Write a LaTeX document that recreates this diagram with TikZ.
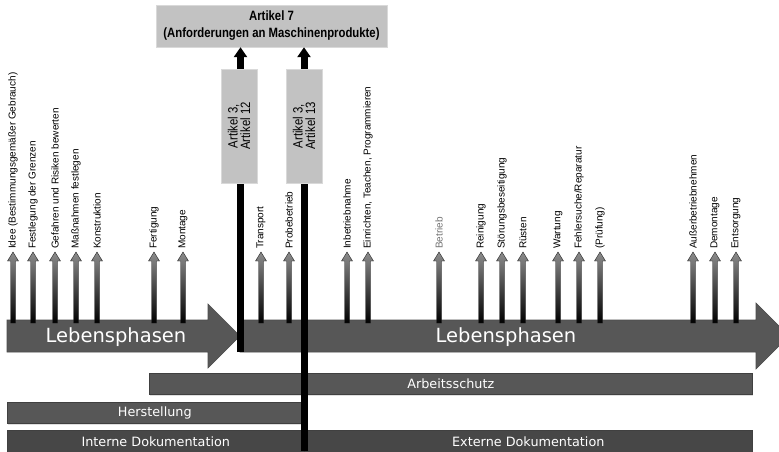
\documentclass[tikz,border=0pt]{standalone}
\usepackage{fontspec}
\setmainfont{Liberation Sans}
\newfontfamily\dejavu{DejaVu Sans}
\newfontfamily\narrowfont[FakeStretch=0.84]{Liberation Sans}
\usetikzlibrary{arrows.meta,shadows}
\definecolor{barfill}{HTML}{575757}
\definecolor{bardark}{HTML}{474747}
\definecolor{boxgray}{HTML}{C2C2C2}
\tikzset{
  lbl/.style={rotate=90,anchor=west,inner sep=1pt,font=\fontsize{10}{12}\selectfont},
  bar/.style={draw=black!75,fill=barfill,line width=0.6pt,anchor=north west,inner sep=0pt,
    text=white!92,font=\dejavu\fontsize{12.8}{14}\selectfont,
    drop shadow={shadow xshift=0.8pt,shadow yshift=-1.2pt,opacity=0.25}},
  bigarrow/.style={fill=barfill,draw=black!70,line width=0.6pt},
  phasetext/.style={text=white!95,font=\dejavu\fontsize{19.5}{22}\selectfont,inner sep=0pt},
  artbox/.style={fill=boxgray,draw=black!15,line width=0.4pt,inner sep=0pt,
    drop shadow={shadow xshift=0.8pt,shadow yshift=-1pt,opacity=0.2}},
  blackline/.style={line width=7pt,black,-{Triangle[width=13pt,length=10pt]}},
}
\begin{document}
\begin{tikzpicture}[x=1pt,y=-1pt]
\useasboundingbox (0,0) rectangle (779,451);
\clip (0,0) rectangle (779,451);
\fill[white] (0,0) rectangle (779,451);

% big arrows
\draw[bigarrow] (7,320) -- (208,320) -- (208,304) -- (240,336) -- (208,368) -- (208,352) -- (7,352) -- cycle;
\draw[bigarrow] (240,320) -- (756,320) -- (756,303) -- (789,336) -- (756,369) -- (756,352) -- (240,352) -- cycle;
\node[phasetext] (lp1) at (116,337) {Lebensphasen};
\node[phasetext] (lp2) at (506,337) {Lebensphasen};

% small arrows and labels
\foreach \x/\t/\c [count=\i] in {
  13/{Idee (Bestimmungsgemäßer Gebrauch)}/black,
  33/{Festlegung der Grenzen}/black,
  55/{Gefahren und Risiken bewerten}/black,
  76/{Maßnahmen festlegen}/black,
  97/{Konstruktion}/black,
  154/{Fertigung}/black,
  183/{Montage}/black,
  261/{Transport}/black,
  289/{Probebetrieb}/black,
  347/{Inbetriebnahme}/black,
  368/{Einrichten, Teachen, Programmieren}/black,
  439/{Betrieb}/black!55,
  481/{Reinigung}/black,
  502/{Störungsbeseitigung}/black,
  523/{Rüsten}/black,
  558/{Wartung}/black,
  579/{Fehlersuche/Reparatur}/black,
  600/{(Prüfung)}/black,
  693/{Außerbetriebnehmen}/black,
  715/{Demontage}/black,
  736/{Entsorgung}/black}{
  \shade[top color=black!45,bottom color=black,draw=black!85,line width=0.4pt]
    (\x-2.5,323) -- (\x-2.5,261) -- (\x-5.5,261) -- (\x,252) -- (\x+5.5,261) -- (\x+2.5,261) -- (\x+2.5,323) -- cycle;
  \node[lbl,text=\c] (l\i) at (\x,250) {\t};
}

% bars
\node[bar,minimum width=603pt,minimum height=21pt] (arb) at (149,373) {Arbeitsschutz};
\node[bar,minimum width=295pt,minimum height=21pt] (her) at (7,402) {Herstellung};
\node[bar,fill=bardark,minimum width=297pt,minimum height=23pt] (int) at (7,430) {Interne Dokumentation};
\node[bar,fill=bardark,minimum width=448pt,minimum height=23pt] (ext) at (304,430) {Externe Dokumentation};

% Artikel 7
\node[artbox,minimum width=231pt,minimum height=42pt,align=center,
  font=\narrowfont\bfseries\fontsize{13.5}{17}\selectfont] (art7) at (271.5,26)
  {Artikel 7\\(Anforderungen an Maschinenprodukte)};

% black lines
\coordinate (c1) at (240.5,352);
\coordinate (c2) at (304,451);
\draw[blackline] (c1) -- (c1 |- art7.south);
\draw[blackline] (c2) -- (c2 |- art7.south);

% Artikel 3 boxes
\node[artbox,minimum width=36pt,minimum height=114pt] (a12) at (239,126) {};
\node[rotate=90,align=center,font=\narrowfont\fontsize{13.5}{12.5}\selectfont] (t12) at (a12.center) {Artikel 3,\\Artikel 12};
\node[artbox,minimum width=36pt,minimum height=114pt] (a13) at (304,126) {};
\node[rotate=90,align=center,font=\narrowfont\fontsize{13.5}{12.5}\selectfont] (t13) at (a13.center) {Artikel 3,\\Artikel 13};
\end{tikzpicture}
\end{document}
